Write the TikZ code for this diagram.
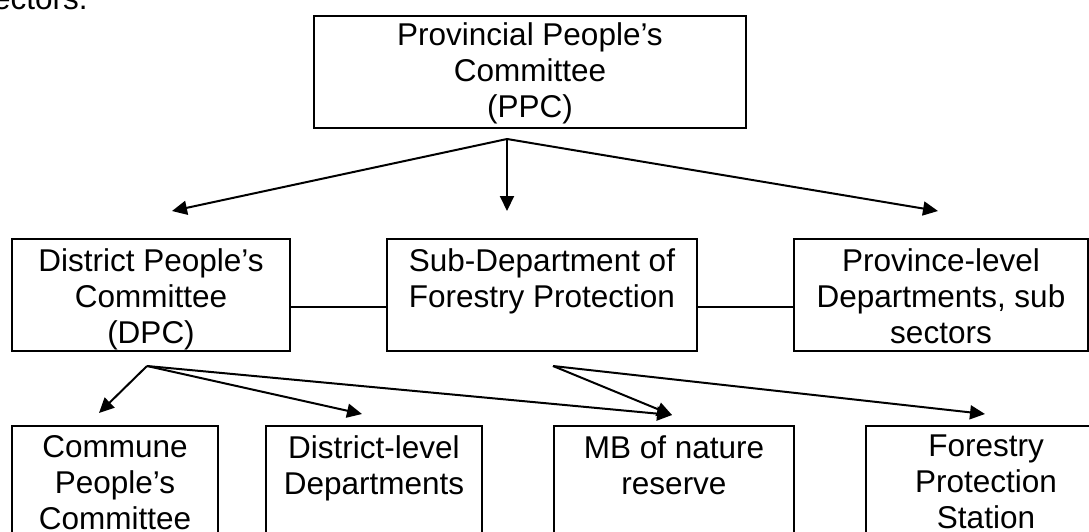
\documentclass[tikz,border=0pt]{standalone}
\usepackage{fontspec}
\setmainfont{Liberation Sans}
\usetikzlibrary{arrows.meta}

\tikzset{
  box/.style={draw, rectangle, line width=2.5pt, inner sep=0pt, outer sep=0pt, anchor=north west},
  boxtext/.style={anchor=north, align=center, inner sep=0pt, font=\fontsize{31.5}{36}\selectfont},
  link/.style={line width=2pt},
  arr/.style={line width=2pt, -{Triangle[length=15pt,width=14pt]}}
}

\begin{document}
\begin{tikzpicture}[x=1pt,y=-1pt]
        \clip (0,0) rectangle (1089,531) ;
        % cut-off line of the text above
        \node[anchor=base west, inner sep=0pt, font=\fontsize{31.5}{36}\selectfont] (prevline) at (-7,9) {ectors.} ;
        % top level
        \node[box, minimum width=432pt, minimum height=112pt] (ppc) at (314,16) {} ;
        \node[boxtext] (ppclbl) at ([yshift=-6pt]ppc.north) {Provincial People’s\\Committee\\(PPC)} ;
        % middle level
        \node[box, minimum width=278pt, minimum height=112pt] (dpc) at (12,239) {} ;
        \node[boxtext] (dpclbl) at ([yshift=-9pt]dpc.north) {District People’s\\Committee\\(DPC)} ;
        \node[box, minimum width=310pt, minimum height=112pt] (sfp) at (387,239) {} ;
        \node[boxtext] (sfplbl) at ([yshift=-9pt]sfp.north) {Sub-Department of\\Forestry Protection} ;
        \node[box, minimum width=294pt, minimum height=112pt] (pld) at (794,239) {} ;
        \node[boxtext] (pldlbl) at ([yshift=-9pt]pld.north) {Province-level\\Departments, sub\\sectors} ;
        % bottom level (runs off the page)
        \node[box, minimum width=206pt, minimum height=140pt] (cpc) at (12,426) {} ;
        \node[boxtext] (cpclbl) at ([yshift=-9pt]cpc.north) {Commune\\People’s\\Committee} ;
        \node[box, minimum width=216pt, minimum height=140pt] (dld) at (266,426) {} ;
        \node[boxtext] (dldlbl) at ([yshift=-9pt]dld.north) {District-level\\Departments} ;
        \node[box, minimum width=240pt, minimum height=140pt] (mbn) at (554,426) {} ;
        \node[boxtext] (mbnlbl) at ([yshift=-9pt]mbn.north) {MB of nature\\reserve} ;
        \node[box, minimum width=240pt, minimum height=140pt] (fps) at (866,426) {} ;
        \node[boxtext] (fpslbl) at ([yshift=-9pt]fps.north) {Forestry\\Protection\\Station} ;
        % arrow starts and ends
        \coordinate (ppchub) at (507,139) ;
        \coordinate (dpchub) at (147,366) ;
        \coordinate (sfphub) at (553,366) ;
        \coordinate (dpctip) at (172,211) ;
        \coordinate (sfptip) at (507,211) ;
        \coordinate (pldtip) at (938,211) ;
        \coordinate (cpctip) at (99,413) ;
        \coordinate (dldtip) at (362,414) ;
        \coordinate (mbntip) at (672,415) ;
        \coordinate (fpstip) at (985,414) ;
        % PPC to the middle level
        \draw[arr] (ppchub) -- (dpctip) ;
        \draw[arr] (ppchub) -- (sfptip) ;
        \draw[arr] (ppchub) -- (pldtip) ;
        % side links
        \draw[link] ([yshift=-12pt]dpc.east) -- ([yshift=-12pt]sfp.west) ;
        \draw[link] ([yshift=-12pt]sfp.east) -- ([yshift=-12pt]pld.west) ;
        % to the bottom level
        \draw[arr] (dpchub) -- (cpctip) ;
        \draw[arr] (dpchub) -- (dldtip) ;
        \draw[arr] (dpchub) -- (mbntip) ;
        \draw[arr] (sfphub) -- (mbntip) ;
        \draw[arr] (sfphub) -- (fpstip) ;
\end{tikzpicture}
\end{document}
